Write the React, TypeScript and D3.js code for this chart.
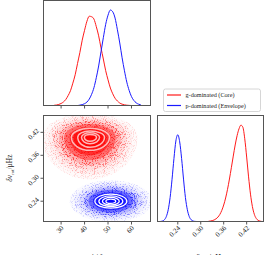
import React from 'react';
import * as d3 from 'd3';

const W = 269, H = 255;

// axis ticks and ranges
const iTicks = [30, 40, 50, 60];
const dnuTicks = [0.24, 0.30, 0.36, 0.42];
const iDomain: [number, number] = [22.5, 68.1];
const dnuDomain: [number, number] = [0.187, 0.464];

// 1D histogram of i (bin centres, normalised heights)
const iBinCenters = [27, 28, 29, 30, 31, 32, 33, 34, 35, 36, 37, 38, 39, 40, 41, 42, 43, 44, 45, 46, 47, 48, 49, 50, 51, 52, 53, 54, 55, 56, 57, 58, 59, 60, 61, 62, 63, 64];
const iHistCore = [0.002, 0.005, 0.011, 0.021, 0.037, 0.063, 0.104, 0.155, 0.234, 0.322, 0.44, 0.555, 0.684, 0.788, 0.882, 0.935, 0.93, 0.905, 0.826, 0.73, 0.604, 0.487, 0.365, 0.269, 0.183, 0.123, 0.076, 0.047, 0.026, 0.014, 0.007, 0.003, 0.001, 0, 0, 0, 0, 0];
const iHistEnv = [0, 0, 0, 0, 0, 0, 0, 0, 0, 0, 0, 0.004, 0.009, 0.019, 0.036, 0.067, 0.117, 0.187, 0.291, 0.414, 0.563, 0.71, 0.85, 0.946, 1.0, 0.982, 0.916, 0.793, 0.655, 0.5, 0.364, 0.245, 0.158, 0.093, 0.053, 0.028, 0.014, 0.006];

// 1D histogram of delta nu_rot
const dnuBinCentersEnv = [0.195, 0.2, 0.205, 0.21, 0.215, 0.22, 0.225, 0.23, 0.235, 0.24, 0.245, 0.25, 0.255, 0.26, 0.265, 0.27, 0.275, 0.28, 0.285, 0.29];
const dnuHistEnv = [0.001, 0.005, 0.018, 0.051, 0.122, 0.25, 0.438, 0.654, 0.835, 0.9, 0.826, 0.654, 0.44, 0.248, 0.122, 0.051, 0.018, 0.005, 0.001, 0];
const dnuBinCentersCore = [0.32, 0.325, 0.33, 0.335, 0.34, 0.345, 0.35, 0.355, 0.36, 0.365, 0.37, 0.375, 0.38, 0.385, 0.39, 0.395, 0.4, 0.405, 0.41, 0.415, 0.42, 0.425, 0.43, 0.435, 0.44, 0.445, 0.45, 0.455, 0.46];
const dnuHistCore = [0.002, 0.005, 0.009, 0.016, 0.028, 0.046, 0.074, 0.115, 0.171, 0.244, 0.334, 0.441, 0.558, 0.679, 0.794, 0.891, 0.962, 1.0, 0.979, 0.859, 0.669, 0.463, 0.284, 0.155, 0.075, 0.032, 0.012, 0.004, 0];

const seriesNames = ['g-dominated (Core)', 'p-dominated (Envelope)'];
const seriesColors = ['#ff1a1a', '#1a1aff'];
const cloudColors = ['#ff0000', '#0000ff'];
const ringColors = ['#ffb8b8', '#ffffff'];

// 2D cloud (centre and spread)
const cloudI = [42.3, 51.2];
const cloudDnu = [0.407, 0.240];
const cloudSigILeft = [4.6, 4.0];
const cloudSigIRight = [4.6, 4.0];
const cloudSigDnuUp = [0.0145, 0.0125];
const cloudSigDnuDown = [0.025, 0.0125];
const cloudLevels = [4.4, 3.9, 3.4, 2.9, 2.4, 1.9, 1.5, 1.1];
const speckOpacity = [0.12, 0.15, 0.22, 0.3];
const smoothOpacity = [0.02, 0.04, 0.08, 0.18, 0.4, 0.55, 0.6, 0.6];

// contour rings: extents left / right / up / down of centre
const coreRingsILeft = [7.9, 5.2, 3.6, 2.4];
const coreRingsIRight = [8.3, 6.2, 4.1, 2.8];
const coreRingsDnuUp = [0.0235, 0.0165, 0.012, 0.0075];
const coreRingsDnuDown = [0.034, 0.026, 0.0165, 0.0105];
const envRingsI = [6.8, 5.1, 3.6, 2.1];
const envRingsDnu = [0.0183, 0.0138, 0.0099, 0.0057];

const TL = { x0: 43.5, x1: 150.5, y0: 0.5, y1: 105.5 };
const BL = { x0: 43.5, x1: 150.5, y0: 115.5, y1: 221.5 };
const BR = { x0: 157.5, x1: 263.5, y0: 115.5, y1: 221.5 };

const FONT = "'Liberation Serif', 'DejaVu Serif', serif";

function blob(cx: number, cy: number, L: number, R: number, T: number, B: number) {
  return `M${cx + R},${cy} A${R},${B} 0 0 1 ${cx},${cy + B} A${L},${B} 0 0 1 ${cx - L},${cy} A${L},${T} 0 0 1 ${cx},${cy - T} A${R},${T} 0 0 1 ${cx + R},${cy} Z`;
}

export default function App() {
  const xI = d3.scaleLinear().domain(iDomain).range([TL.x0, TL.x1]);
  const xDnu = d3.scaleLinear().domain(dnuDomain).range([BR.x0, BR.x1]);
  const yDnu = d3.scaleLinear().domain(dnuDomain).range([BL.y1, BL.y0]);
  const yTop = d3.scaleLinear().domain([0, 1.1]).range([TL.y1, TL.y0]);
  const yBR = d3.scaleLinear().domain([0, 1.1]).range([BR.y1, BR.y0]);

  const lineTop = d3.line<[number, number]>().x(d => xI(d[0])).y(d => yTop(d[1])).curve(d3.curveMonotoneX);
  const lineBR = d3.line<[number, number]>().x(d => xDnu(d[0])).y(d => yBR(d[1])).curve(d3.curveMonotoneX);

  const topCore = iBinCenters.map((c, k) => [c, iHistCore[k]] as [number, number]);
  const topEnv = iBinCenters.map((c, k) => [c, iHistEnv[k]] as [number, number]);
  const brEnv = dnuBinCentersEnv.map((c, k) => [c, dnuHistEnv[k]] as [number, number]);
  const brCore = dnuBinCentersCore.map((c, k) => [c, dnuHistCore[k]] as [number, number]);

  const pxPerI = xI(1) - xI(0);
  const pxPerDnu = yDnu(0) - yDnu(1);

  const frame = (p: typeof TL) => (
    <rect x={p.x0} y={p.y0} width={p.x1 - p.x0} height={p.y1 - p.y0} fill="none" stroke="#555" strokeWidth={1} />
  );

  const clouds = [0, 1].map(s => {
    const cx = xI(cloudI[s]);
    const cy = yDnu(cloudDnu[s]);
    const shape = (k: number) => blob(cx, cy, k * cloudSigILeft[s] * pxPerI, k * cloudSigIRight[s] * pxPerI, k * cloudSigDnuUp[s] * pxPerDnu, k * cloudSigDnuDown[s] * pxPerDnu);
    return (
      <g key={'c' + s} fill={cloudColors[s]}>
        <g filter="url(#speck)">
          {speckOpacity.map((o, j) => (
            <path key={j} d={shape(cloudLevels[j])} fillOpacity={o} />
          ))}
        </g>
        {cloudLevels.map((k, j) => (
          <path key={'s' + j} d={shape(k)} fillOpacity={smoothOpacity[j]} />
        ))}
      </g>
    );
  });

  const coreRings = coreRingsILeft.map((L, j) => {
    const cx = xI(cloudI[0]);
    const cy = yDnu(cloudDnu[0]);
    return <path key={'r' + j} d={blob(cx, cy, L * pxPerI, coreRingsIRight[j] * pxPerI, coreRingsDnuUp[j] * pxPerDnu, coreRingsDnuDown[j] * pxPerDnu)}
      fill="none" stroke={ringColors[0]} strokeWidth={1.5} />;
  });
  const envRings = envRingsI.map((r, j) => {
    const cx = xI(cloudI[1]);
    const cy = yDnu(cloudDnu[1]);
    return <path key={'e' + j} d={blob(cx, cy, r * pxPerI, r * pxPerI, envRingsDnu[j] * pxPerDnu, envRingsDnu[j] * pxPerDnu)}
      fill="none" stroke={ringColors[1]} strokeWidth={1.3} />;
  });

  const tickFs = 7;

  return (
    <svg width={W} height={H} style={{ position: 'absolute', left: 0, top: 0 }} fontFamily={FONT}>
      <defs>
        <clipPath id="cTL"><rect x={TL.x0} y={TL.y0} width={TL.x1 - TL.x0} height={TL.y1 - TL.y0} /></clipPath>
        <clipPath id="cBL"><rect x={BL.x0} y={BL.y0} width={BL.x1 - BL.x0} height={BL.y1 - BL.y0} /></clipPath>
        <clipPath id="cBR"><rect x={BR.x0} y={BR.y0} width={BR.x1 - BR.x0} height={BR.y1 - BR.y0} /></clipPath>
        <filter id="speck" x="0" y="0" width="100%" height="100%" filterUnits="objectBoundingBox">
          <feTurbulence type="fractalNoise" baseFrequency="1.1" numOctaves={1} seed={3} result="noise" />
          <feColorMatrix in="noise" type="matrix"
            values="0 0 0 0 0  0 0 0 0 0  0 0 0 0 0  8 0 0 0 -4.2" result="mask" />
          <feComposite in="SourceGraphic" in2="mask" operator="in" />
        </filter>
      </defs>
      <rect x={0} y={0} width={W} height={H} fill="#fff" />

      {/* top-left histogram */}
      <g clipPath="url(#cTL)" fill="none" strokeWidth={1}>
        <path d={lineTop(topCore) || ''} stroke={seriesColors[0]} />
        <path d={lineTop(topEnv) || ''} stroke={seriesColors[1]} />
      </g>
      {frame(TL)}
      {iTicks.map(t => <line key={'tt' + t} x1={xI(t)} x2={xI(t)} y1={TL.y1} y2={TL.y1 + 3} stroke="#555" />)}

      {/* bottom-left 2D */}
      <g clipPath="url(#cBL)">
        {clouds}
        {coreRings}
        {envRings}
      </g>
      {frame(BL)}
      {iTicks.map(t => (
        <g key={'bl' + t}>
          <line x1={xI(t)} x2={xI(t)} y1={BL.y1} y2={BL.y1 + 3} stroke="#555" />
          <text x={xI(t) + 3} y={BL.y1 + 7} fontSize={tickFs} textAnchor="end" fill="#222"
            transform={`rotate(-45 ${xI(t) + 3} ${BL.y1 + 7})`}>{t}</text>
        </g>
      ))}
      {dnuTicks.map(t => (
        <g key={'bly' + t}>
          <line x1={BL.x0 - 3} x2={BL.x0} y1={yDnu(t)} y2={yDnu(t)} stroke="#555" />
          <text x={BL.x0 - 4} y={yDnu(t) - 1} fontSize={tickFs} textAnchor="end" fill="#222"
            transform={`rotate(-45 ${BL.x0 - 4} ${yDnu(t) - 1})`}>{t.toFixed(2)}</text>
        </g>
      ))}
      <text transform={`translate(12, 168) rotate(-90)`} fontSize={7.5} textAnchor="middle" fill="#222">
        <tspan fontStyle="italic">δν</tspan><tspan fontSize={5} dy={1.5}>rot</tspan><tspan dy={-1.5}>/μHz</tspan>
      </text>

      {/* bottom-right histogram */}
      <g clipPath="url(#cBR)" fill="none" strokeWidth={1}>
        <path d={lineBR(brCore) || ''} stroke={seriesColors[0]} />
        <path d={lineBR(brEnv) || ''} stroke={seriesColors[1]} />
      </g>
      {frame(BR)}
      {dnuTicks.map(t => (
        <g key={'br' + t}>
          <line x1={xDnu(t)} x2={xDnu(t)} y1={BR.y1} y2={BR.y1 + 3} stroke="#555" />
          <text x={xDnu(t) + 3} y={BR.y1 + 7} fontSize={tickFs} textAnchor="end" fill="#222"
            transform={`rotate(-45 ${xDnu(t) + 3} ${BR.y1 + 7})`}>{t.toFixed(2)}</text>
        </g>
      ))}

      {/* axis labels (cut at the bottom edge, as in the reference) */}
      <text x={97} y={260} fontSize={8} textAnchor="middle" fill="#222"><tspan fontStyle="italic">i</tspan> / °</text>
      <text x={210} y={260} fontSize={8} textAnchor="middle" fill="#222">
        <tspan fontStyle="italic">δν</tspan><tspan fontSize={5.5} dy={1.5}>rot</tspan><tspan dy={-1.5}>/μHz</tspan>
      </text>

      {/* legend */}
      <rect x={163.5} y={89} width={97} height={22.5} rx={2} fill="#fff" stroke="#ccc" strokeWidth={0.8} />
      {seriesNames.map((n, k) => (
        <g key={n}>
          <line x1={167} x2={181} y1={95 + k * 10.5} y2={95 + k * 10.5} stroke={seriesColors[k]} strokeWidth={1.2} />
          <text x={185.5} y={97.2 + k * 10.5} fontSize={6.2} fill="#222">{n}</text>
        </g>
      ))}
    </svg>
  );
}
